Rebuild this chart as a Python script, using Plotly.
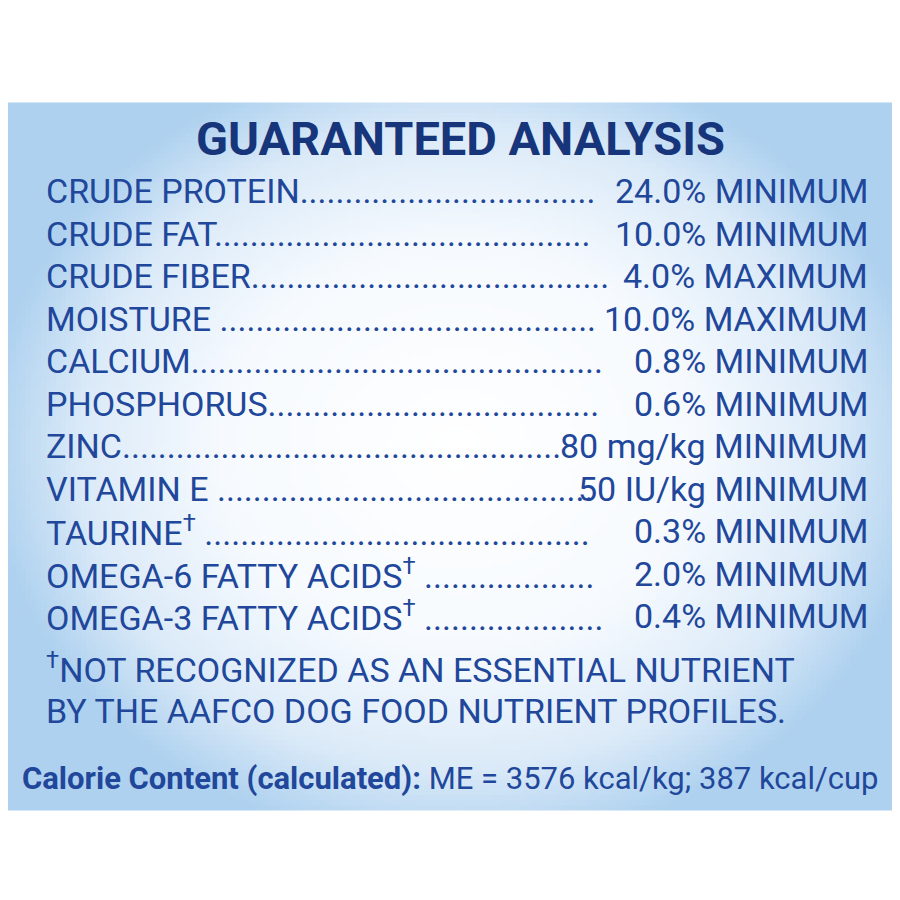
import numpy as np
import plotly.graph_objects as go

title = "GUARANTEED ANALYSIS"
labels = ["CRUDE PROTEIN", "CRUDE FAT", "CRUDE FIBER", "MOISTURE ", "CALCIUM", "PHOSPHORUS",
          "ZINC", "VITAMIN E ", "TAURINE<sup>†</sup> ", "OMEGA-6 FATTY ACIDS<sup>†</sup> ",
          "OMEGA-3 FATTY ACIDS<sup>†</sup> "]
values = ["24.0% MINIMUM", "10.0% MINIMUM", "4.0% MAXIMUM", "10.0% MAXIMUM", "0.8% MINIMUM",
          "0.6% MINIMUM", "80 mg/kg MINIMUM", "50 IU/kg MINIMUM", "0.3% MINIMUM",
          "2.0% MINIMUM", "0.4% MINIMUM"]
dot_counts = [33, 42, 40, 42, 46, 37, 49, 42, 43, 19, 20]
footnote = ["<sup>†</sup>NOT RECOGNIZED AS AN ESSENTIAL NUTRIENT",
            "BY THE AAFCO DOG FOOD NUTRIENT PROFILES."]
calorie = "<b>Calorie Content (calculated):</b> ME = 3576 kcal/kg; 387 kcal/cup"

TEXT = "#21479b"
NAVY = "#17357a"
FONT = "Roboto"

# background gradient panel
gx = np.linspace(0, 900, 181)
gy = np.linspace(97, 800, 141)
X, Y = np.meshgrid(gx, gy)
d = np.sqrt(((X - 450) / 470) ** 2 + ((Y - 440) / 400) ** 2)
fig = go.Figure(go.Heatmap(
    x=gx, y=gy, z=np.clip(d, 0, 1), zmin=0, zmax=1, showscale=False, hoverinfo="skip",
    colorscale=[[0, "#ffffff"], [0.5, "#f6fafe"], [0.8, "#dbeaf8"], [1, "#aed1ef"]],
))

ann = [dict(x=452, y=130, text="<b>" + title + "</b>", showarrow=False,
            font=dict(family=FONT, size=47, color=NAVY), xanchor="center", yanchor="middle")]
for i, (lab, val, n) in enumerate(zip(labels, values, dot_counts)):
    y = 183 + i * 42.5
    ann.append(dict(x=36, y=y, text=lab + "." * n, showarrow=False, xanchor="left", yanchor="middle",
                    font=dict(family=FONT, size=34, color=TEXT)))
    ann.append(dict(x=862, y=y, text=val, showarrow=False, xanchor="right", yanchor="middle",
                    font=dict(family=FONT, size=34, color=TEXT)))
for i, line in enumerate(footnote):
    ann.append(dict(x=36, y=660 + i * 42.5, text=line, showarrow=False, xanchor="left", yanchor="middle",
                    font=dict(family=FONT, size=34, color=TEXT)))
ann.append(dict(x=12, y=770, text=calorie, showarrow=False, xanchor="left", yanchor="middle",
                font=dict(family=FONT, size=31, color=TEXT)))

fig.update_layout(
    width=900, height=900, margin=dict(l=0, r=0, t=0, b=0),
    paper_bgcolor="white", plot_bgcolor="white",
    xaxis=dict(range=[0, 900], visible=False, fixedrange=True),
    yaxis=dict(range=[900, 0], visible=False, fixedrange=True),
    annotations=ann,
)
fig.write_html("out.html")
